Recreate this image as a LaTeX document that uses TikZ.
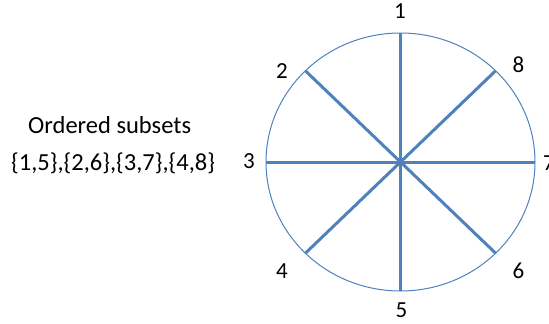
\documentclass[tikz,border=0pt]{standalone}
\usepackage{fontspec}
\setmainfont{Carlito}
\definecolor{spoke}{HTML}{4F81BD}
\begin{document}
\begin{tikzpicture}[x=1pt,y=-1pt,
  lbl/.style={anchor=base,inner sep=0pt,font=\fontsize{23}{28}\selectfont},
  txt/.style={anchor=base west,inner sep=0pt,font=\fontsize{24.5}{30}\selectfont},
  spk/.style={draw=spoke,line width=3pt},
  rim/.style={draw=spoke,line width=1pt}]
\useasboundingbox (0,0) rectangle (549,324);
\coordinate (c) at (400.5,162);
\draw[rim] (c) ellipse [x radius=134.5, y radius=129];
\coordinate (p1) at (400.5,33);
\coordinate (p5) at (400.5,291);
\coordinate (p3) at (266,162);
\coordinate (p7) at (535,162);
\coordinate (p2) at (305.4,70.8);
\coordinate (p6) at (495.6,253.2);
\coordinate (p8) at (495.6,70.8);
\coordinate (p4) at (305.4,253.2);
\draw[spk] (p1) -- (p5);
\draw[spk] (p2) -- (p6);
\draw[spk] (p3) -- (p7);
\draw[spk] (p4) -- (p8);
\node[lbl] (l1) at (400,19) {1};
\node[lbl] (l2) at (282,78) {2};
\node[lbl] (l3) at (249,168) {3};
\node[lbl] (l4) at (282,278) {4};
\node[lbl] (l5) at (401.5,317) {5};
\node[lbl] (l6) at (518.5,278) {6};
\node[lbl] (l7) at (549,170) {7};
\node[lbl] (l8) at (518.5,72) {8};
\node[txt] (t1) at (28,133) {Ordered subsets};
\node[txt] (t2) at (11,170) {\{1,5\},\{2,6\},\{3,7\},\{4,8\}};
\end{tikzpicture}
\end{document}
